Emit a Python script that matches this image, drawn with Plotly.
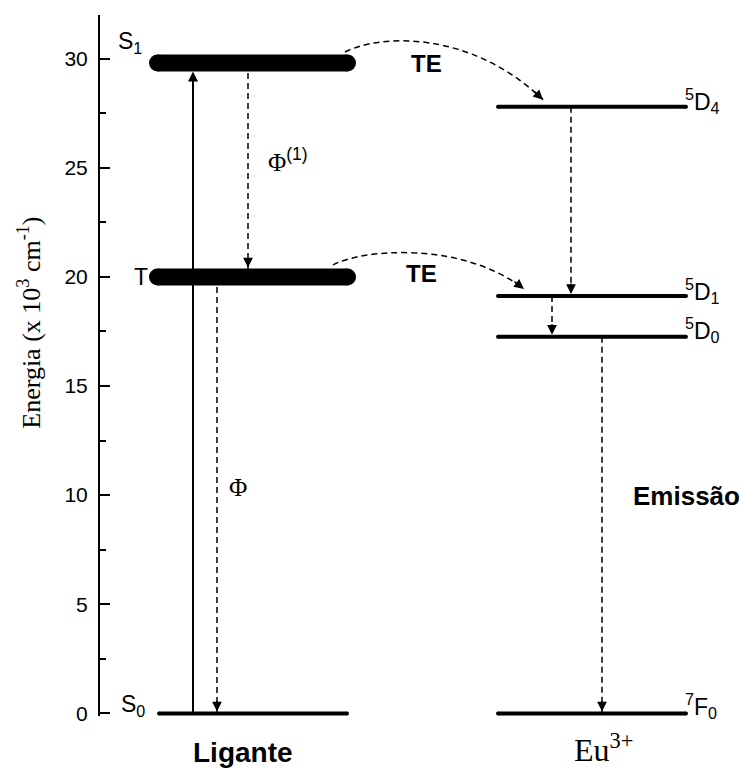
import plotly.graph_objects as go

# ---------------- data ----------------
ligand_states = ["S1", "T", "S0"]
ligand_energy = [29.8, 20.0, 0.0]          # x 10^3 cm^-1
ligand_labels = ["S<sub>1</sub>", "T", "S<sub>0</sub>"]

eu_states = ["5D4", "5D1", "5D0", "7F0"]
eu_energy = [27.8, 19.13, 17.26, 0.0]      # x 10^3 cm^-1
eu_labels = ["<sup>5</sup>D<sub>4</sub>", "<sup>5</sup>D<sub>1</sub>",
             "<sup>5</sup>D<sub>0</sub>", "<sup>7</sup>F<sub>0</sub>"]

y_ticks = [0, 5, 10, 15, 20, 25, 30]
group_labels = ["Ligante", "Eu<sup>3+</sup>"]
process_labels = ["TE", "TE",
                  "\u03a6<sup><span style='font-family:Liberation Sans, Arial, sans-serif'>(1)</span></sup>",
                  "\u03a6", "Emiss\u00e3o"]
y_title = "Energia (x 10<sup>3</sup> cm<sup>-1</sup>)"

# ---------------- layout constants ----------------
W, H = 744, 769
ML, MR, MT, MB = 100, 44, 15, 53
Y_RANGE = [-0.12, 32.0]
X_RANGE = [100, 700]
PLOT_H = H - MT - MB
PPU = PLOT_H / (Y_RANGE[1] - Y_RANGE[0])   # pixels per y unit


def dy(px):
    return px / PPU


def paper_y(py):
    return (H - MB - py) / PLOT_H


def paper_x(px):
    return (px - ML) / (W - ML - MR)


SANS = "Liberation Sans, Arial, sans-serif"
SERIF = "Liberation Serif, Times New Roman, serif"
DASH = "6px,4px"

E = dict(zip(ligand_states, ligand_energy))
E.update(dict(zip(eu_states, eu_energy)))

fig = go.Figure()
annotations = []

# ---------- vertical transitions ----------
transitions = [
    (248, "S1", "T", 9.5),
    (217, "T", "S0", 2),
    (571, "5D4", "5D1", 2),
    (552, "5D1", "5D0", 2),
    (602, "5D0", "7F0", 2),
]
for x, a, b, so in transitions:
    fig.add_trace(go.Scatter(x=[x, x], y=[E[a], E[b]], mode="lines",
                             line=dict(color="black", width=1.5, dash=DASH),
                             hoverinfo="skip", showlegend=False))
    annotations.append(dict(x=x, y=E[b], ax=0, ay=-14, xref="x", yref="y",
                            showarrow=True, arrowhead=2, arrowwidth=1.5,
                            arrowsize=1.3, arrowcolor="black", standoff=so, text=""))

# solid absorption arrow S0 -> S1
annotations.append(dict(x=193, y=E["S1"], ax=193, ay=E["S0"], xref="x", yref="y",
                        axref="x", ayref="y", showarrow=True, arrowhead=2,
                        arrowwidth=2, arrowsize=1.0, arrowcolor="black",
                        standoff=8.5, text=""))

# ---------- curved energy-transfer arrows ----------
curves = [
    ("S1", "5D4", (345, 11), (380, 29), (470, 33), (543, 7)),
    ("T", "5D1", (333, 12), (360, 27), (460, 37), (524, 7)),
]
for s, e, p0, p1, p2, p3 in curves:
    ys = E[s] + dy(p0[1])
    y1 = E[s] + dy(p1[1])
    y2 = E[s] + dy(p2[1])
    ye = E[e] + dy(p3[1])
    path = f"M {p0[0]},{ys} C {p1[0]},{y1} {p2[0]},{y2} {p3[0]},{ye}"
    fig.add_shape(type="path", path=path, xref="x", yref="y",
                  line=dict(color="black", width=1.5, dash=DASH), layer="above")
    tx = p3[0] - p2[0]
    ty = (y2 - ye) * PPU
    n = (tx ** 2 + ty ** 2) ** 0.5
    annotations.append(dict(x=p3[0], y=ye, ax=-14 * tx / n, ay=-14 * ty / n,
                            xref="x", yref="y", showarrow=True, arrowhead=2,
                            arrowwidth=1.5, arrowsize=1.3, arrowcolor="black",
                            text=""))

# ---------- energy levels ----------
lig_x = {"S1": (149, 356), "T": (149, 356), "S0": (157, 349)}
lig_w = {"S1": 17, "T": 17, "S0": 4}
for st in ligand_states:
    x0, x1 = lig_x[st]
    w = lig_w[st]
    fig.add_trace(go.Scatter(x=[x0 + w / 2, x1 - w / 2], y=[E[st], E[st]],
                             mode="lines+markers",
                             line=dict(color="black", width=w),
                             marker=dict(color="black", size=w, line=dict(width=0)),
                             hoverinfo="skip", showlegend=False))
for st in eu_states:
    fig.add_trace(go.Scatter(x=[498, 686], y=[E[st], E[st]], mode="lines+markers",
                             line=dict(color="black", width=4),
                             marker=dict(color="black", size=4, line=dict(width=0)),
                             hoverinfo="skip", showlegend=False))


# ---------- texts ----------
def txt(x, y, t, size, font=SANS, xanchor="center", yanchor="middle", bold=False,
        xref="x", yref="y", angle=0):
    if bold:
        t = f"<b>{t}</b>"
    annotations.append(dict(x=x, y=y, xref=xref, yref=yref, text=t, showarrow=False,
                            xanchor=xanchor, yanchor=yanchor, textangle=angle,
                            font=dict(family=font, size=size, color="black")))


lig_label_pos = {"S1": (116, 30.75), "T": (132, 20.0), "S0": (119, 0.35)}
for st, lab in zip(ligand_states, ligand_labels):
    x, y = lig_label_pos[st]
    txt(x, y, lab, 23, xanchor="left")

eu_label_y = {"5D4": 28.05, "5D1": 19.35, "5D0": 17.55, "7F0": 0.35}
for st, lab in zip(eu_states, eu_labels):
    txt(683, eu_label_y[st], lab, 23, xanchor="left")

txt(426, 29.77, process_labels[0], 24, bold=True)
txt(421, 20.14, process_labels[1], 24, bold=True)
txt(266, 25.35, process_labels[2], 25, font=SERIF, xanchor="left")
txt(238, 10.37, process_labels[3], 25, font=SERIF)
txt(686, 9.95, process_labels[4], 26, bold=True)

txt(243, paper_y(752), group_labels[0], 28, bold=True, yref="paper")
txt(603, paper_y(748), group_labels[1], 32, font=SERIF, yref="paper")

txt(paper_x(30), 17.9, y_title, 26, font=SERIF, xref="paper", angle=-90)

fig.update_layout(
    width=W, height=H,
    margin=dict(l=ML, r=MR, t=MT, b=MB, autoexpand=False),
    paper_bgcolor="white", plot_bgcolor="white",
    showlegend=False,
    annotations=annotations,
    xaxis=dict(range=X_RANGE, visible=False, fixedrange=True),
    yaxis=dict(range=Y_RANGE, tickvals=y_ticks, showgrid=False, zeroline=False,
               showline=True, linecolor="black", linewidth=2,
               ticks="inside", ticklen=10, tickwidth=2, tickcolor="black",
               minor=dict(dtick=2.5, tick0=0, ticks="inside", ticklen=6,
                          tickwidth=2, tickcolor="black"),
               tickfont=dict(family=SANS, size=21, color="black"),
               ticklabelstandoff=6, fixedrange=True),
)

fig.write_html("out.html", config={"displayModeBar": False},
               post_script="document.body.style.margin='0';document.body.style.overflow='hidden';")
